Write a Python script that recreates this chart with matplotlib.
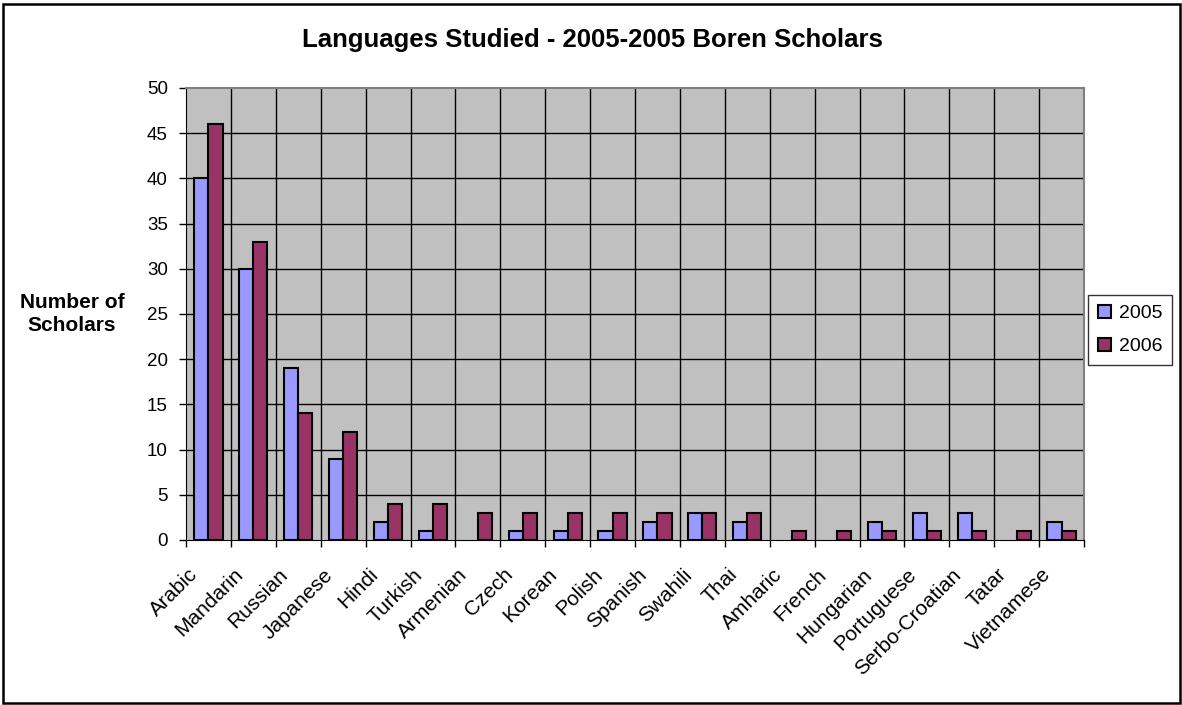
import matplotlib
matplotlib.use("Agg")
import matplotlib.pyplot as plt
import numpy as np
from matplotlib.patches import Rectangle
import matplotlib.transforms as mtransforms

plt.rcParams['font.family'] = ['Liberation Sans', 'DejaVu Sans']

languages = ["Arabic", "Mandarin", "Russian", "Japanese", "Hindi", "Turkish",
             "Armenian", "Czech", "Korean", "Polish", "Spanish", "Swahili",
             "Thai", "Amharic", "French", "Hungarian", "Portuguese",
             "Serbo-Croatian", "Tatar", "Vietnamese"]
scholars_2005 = [40, 30, 19, 9, 2, 1, 0, 1, 1, 1, 2, 3, 2, 0, 0, 2, 3, 3, 0, 2]
scholars_2006 = [46, 33, 14, 12, 4, 4, 3, 3, 3, 3, 3, 3, 3, 1, 1, 1, 1, 1, 1, 1]
yticks = [0, 5, 10, 15, 20, 25, 30, 35, 40, 45, 50]

fig = plt.figure(figsize=(11.82, 7.05), dpi=100)
fig.patch.set_facecolor('white')
fig.patches.append(Rectangle((3/1182, 2/705), 1177/1182, 699/705, transform=fig.transFigure,
                             fill=False, edgecolor='black', linewidth=1.8))

ax = fig.add_axes([186/1182, (705-540)/705, (1084-186)/1182, (540-88)/705])
ax.set_facecolor('#C0C0C0')

n = len(languages)
x = np.arange(n)
w = 0.315
b1 = ax.bar(x - w/2, scholars_2005, width=w, color='#9999FF', edgecolor='black', linewidth=1.5,
            label='2005', zorder=3)
b2 = ax.bar(x + w/2, scholars_2006, width=w, color='#993366', edgecolor='black', linewidth=1.5,
            label='2006', zorder=3)
for bars, vals in ((b1, scholars_2005), (b2, scholars_2006)):
    for r, v in zip(bars, vals):
        if v == 0:
            r.set_visible(False)

ax.set_xlim(-0.5, n - 0.5)
ax.set_ylim(0, 50)
ax.set_yticks(yticks)
ax.tick_params(axis='y', labelsize=13.5, length=5, width=1, direction='out', pad=8)

# category boundary ticks and gridlines
bounds = np.arange(n + 1) - 0.5
ax.set_xticks(bounds)
ax.set_xticklabels([''] * (n + 1))
ax.tick_params(axis='x', length=5, width=1, direction='out')
ax.set_xticks(x, minor=True)
ax.set_xticklabels(languages, minor=True, rotation=45, ha='right', va='top',
                   rotation_mode='anchor', fontsize=15)
ax.tick_params(axis='x', which='minor', length=0, pad=18)
offset = mtransforms.ScaledTranslation(-20/100, 0, fig.dpi_scale_trans)
for lab in ax.get_xticklabels(minor=True):
    lab.set_transform(lab.get_transform() + offset)

for b in bounds[1:-1]:
    ax.axvline(b, color='black', linewidth=1, zorder=1)
for yv in yticks[1:-1]:
    ax.axhline(yv, color='black', linewidth=1, zorder=1)

for side in ['top', 'right']:
    ax.spines[side].set_color('#808080')
    ax.spines[side].set_linewidth(1.5)
ax.spines['left'].set_color('black')
ax.spines['bottom'].set_color('black')

fig.text(592/1182, 1 - 40/705, "Languages Studied - 2005-2005 Boren Scholars", ha='center', va='center',
         fontsize=18.5, fontweight='bold')
fig.text(72/1182, 1 - 314/705, "Number of\nScholars", ha='center', va='center',
         fontsize=15, fontweight='bold', linespacing=1.3)

leg = fig.legend(loc='center', bbox_to_anchor=(1130/1182, 1 - 330/705), fontsize=14,
                 frameon=True, fancybox=False, edgecolor='black', handlelength=0.7,
                 handleheight=0.7, handletextpad=0.4, labelspacing=0.8, borderpad=0.5)
leg.get_frame().set_linewidth(1)

fig.savefig('out.png', dpi=100)
